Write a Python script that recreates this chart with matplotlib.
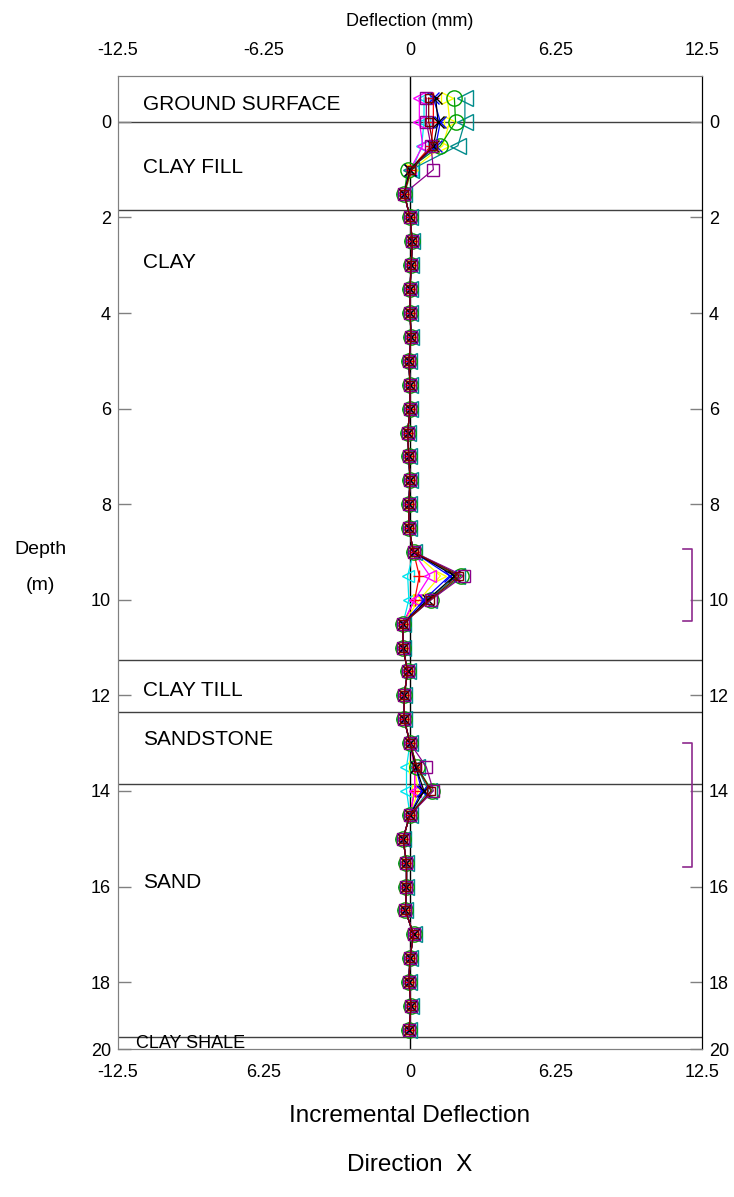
import matplotlib
matplotlib.use('Agg')
import matplotlib.pyplot as plt

plt.rcParams['font.family'] = ['Liberation Sans', 'DejaVu Sans']

# глубины точек замера (м)
depth = [-0.5, 0.0, 0.5, 1.0, 1.5, 2.0, 2.5, 3.0, 3.5, 4.0,
         4.5, 5.0, 5.5, 6.0, 6.5, 7.0, 7.5, 8.0, 8.5, 9.0,
         9.5, 10.0, 10.5, 11.0, 11.5, 12.0, 12.5, 13.0, 13.5, 14.0,
         14.5, 15.0, 15.5, 16.0, 16.5, 17.0, 17.5, 18.0, 18.5, 19.0]

# общий профиль (мм), где все серии почти совпадают
base = [0.8, 0.8, 1.0, 0.0, -0.25, 0.0, 0.1, 0.05, 0.0, 0.0,
        0.05, -0.05, 0.0, 0.0, -0.1, -0.05, 0.0, -0.05, -0.05, 0.15,
        2.0, 0.8, -0.3, -0.3, -0.1, -0.25, -0.25, 0.0, 0.25, 0.8,
        0.0, -0.3, -0.15, -0.15, -0.2, 0.15, 0.0, -0.05, 0.05, -0.05]

# глубины, где серии расходятся
special_depth = [-0.5, 0.0, 0.5, 1.0, 9.5, 10.0, 13.5, 14.0]

cyan_vals = [0.6, 0.6, 0.5, 0.1, -0.1, -0.05, -0.15, -0.15]
yellow_vals = [1.6, 1.7, 1.4, 0.1, 1.3, 0.4, 0.2, 0.35]
red_vals = [1.0, 1.0, 0.9, 0.0, 0.4, 0.2, 0.2, 0.2]
magenta_vals = [0.4, 0.4, 0.55, 0.0, 0.85, 0.2, 0.2, 0.2]
teal_vals = [2.35, 2.35, 2.05, 0.05, 2.0, 0.8, 0.3, 0.8]
green_vals = [1.9, 1.95, 1.3, -0.1, 2.2, 0.9, 0.3, 0.95]
blue_vals = [1.0, 1.3, 1.1, 0.0, 1.7, 0.6, 0.25, 0.5]
black_vals = [1.1, 1.2, 1.0, 0.0, 1.9, 0.75, 0.25, 0.6]
purple_vals = [0.7, 0.7, 0.9, 1.0, 2.3, 0.9, 0.7, 1.0]
maroon_vals = [0.8, 0.8, 1.0, 0.05, 2.1, 0.85, 0.3, 0.9]

series = [
    (cyan_vals, '#00e5ee', '<', 9),
    (yellow_vals, '#ffff00', '>', 9),
    (red_vals, '#ff0000', '+', 9),
    (magenta_vals, '#ff00ff', '<', 9),
    (teal_vals, '#008b8b', '<', 11),
    (green_vals, '#00a000', 'o', 11),
    (blue_vals, '#0000ff', 'x', 8),
    (black_vals, '#000000', 'x', 8),
    (purple_vals, '#8b008b', 's', 8),
    (maroon_vals, '#800000', 's', 6),
]

# слои грунта
layer_names = ['GROUND SURFACE', 'CLAY FILL', 'CLAY', 'CLAY TILL',
               'SANDSTONE', 'SAND', 'CLAY SHALE']
layer_label_depth = [-0.36, 0.95, 2.95, 11.9, 12.92, 15.92, 19.29]
layer_lines = [0.0, 1.85, 11.25, 12.35, 13.85, 19.15]

# скобки справа
brackets = [(8.93, 10.44), (13.0, 15.6)]

x_ticks = [-12.5, -6.25, 0, 6.25, 12.5]
top_labels = ['-12.5', '-6.25', '0', '6.25', '12.5']
bottom_labels = ['-12.5', '6.25', '0', '6.25', '12.5']
y_ticks = [0, 2, 4, 6, 8, 10, 12, 14, 16, 18]

y_top = -0.96
y_bottom = 19.4

fig = plt.figure(figsize=(7.34, 11.97), dpi=100)
ax = fig.add_axes([118 / 734, 1 - 1049 / 1197, 584 / 734, 973 / 1197])

ax.set_xlim(-12.5, 12.5)
ax.set_ylim(y_bottom, y_top)

for d in layer_lines:
    ax.axhline(d, color='#404040', lw=1, zorder=1)
for name, d in zip(layer_names, layer_label_depth):
    if name == 'CLAY SHALE':
        ax.text(-11.75, d, name, fontsize=13, va='center', ha='left', zorder=2)
    else:
        ax.text(-11.43, d, name, fontsize=15, va='center', ha='left', zorder=2)

ax.axvline(0, color='black', lw=1, zorder=1)

for vals, col, mk, ms in series:
    xs = list(base)
    for d, v in zip(special_depth, vals):
        xs[depth.index(d)] = v
    ax.plot(xs, depth, color=col, marker=mk, ms=ms, mfc='none',
            mew=1, lw=0.9, zorder=3)

for top, bot in brackets:
    ax.plot([11.69, 12.07, 12.07, 11.69], [top, top, bot, bot],
            color='#8e2a8e', lw=1.2, zorder=3)

# оси
ax.set_yticks(y_ticks + [y_bottom])
ax.set_yticklabels([str(t) for t in y_ticks] + ['20'])
ax.tick_params(axis='y', direction='in', length=9, width=1, color='#808080',
               left=True, right=True, labelleft=True, labelright=True,
               labelsize=13, pad=5)
ax.set_xticks(x_ticks)
ax.set_xticklabels(bottom_labels)
ax.tick_params(axis='x', length=0, labelsize=13, pad=11)

ax_top = ax.twiny()
ax_top.set_xlim(-12.5, 12.5)
ax_top.set_xticks(x_ticks)
ax_top.set_xticklabels(top_labels)
ax_top.tick_params(axis='x', length=0, labelsize=13, pad=12)

for a in (ax, ax_top):
    a.spines['left'].set_color('#808080')
    a.spines['top'].set_color('#808080')
    a.spines['bottom'].set_color('#808080')
    a.spines['right'].set_color('black')

fig.text(410 / 734, 1 - 22 / 1197, 'Deflection (mm)', fontsize=13,
         ha='center', va='center')
fig.text(40 / 734, 1 - 550 / 1197, 'Depth', fontsize=14, ha='center', va='center')
fig.text(40 / 734, 1 - 585 / 1197, '(m)', fontsize=14, ha='center', va='center')
fig.text(410 / 734, 1 - 1116 / 1197, 'Incremental Deflection', fontsize=17.5,
         ha='center', va='center')
fig.text(410 / 734, 1 - 1165 / 1197, 'Direction  X', fontsize=17.5,
         ha='center', va='center')

fig.savefig('out.png', dpi=100)
